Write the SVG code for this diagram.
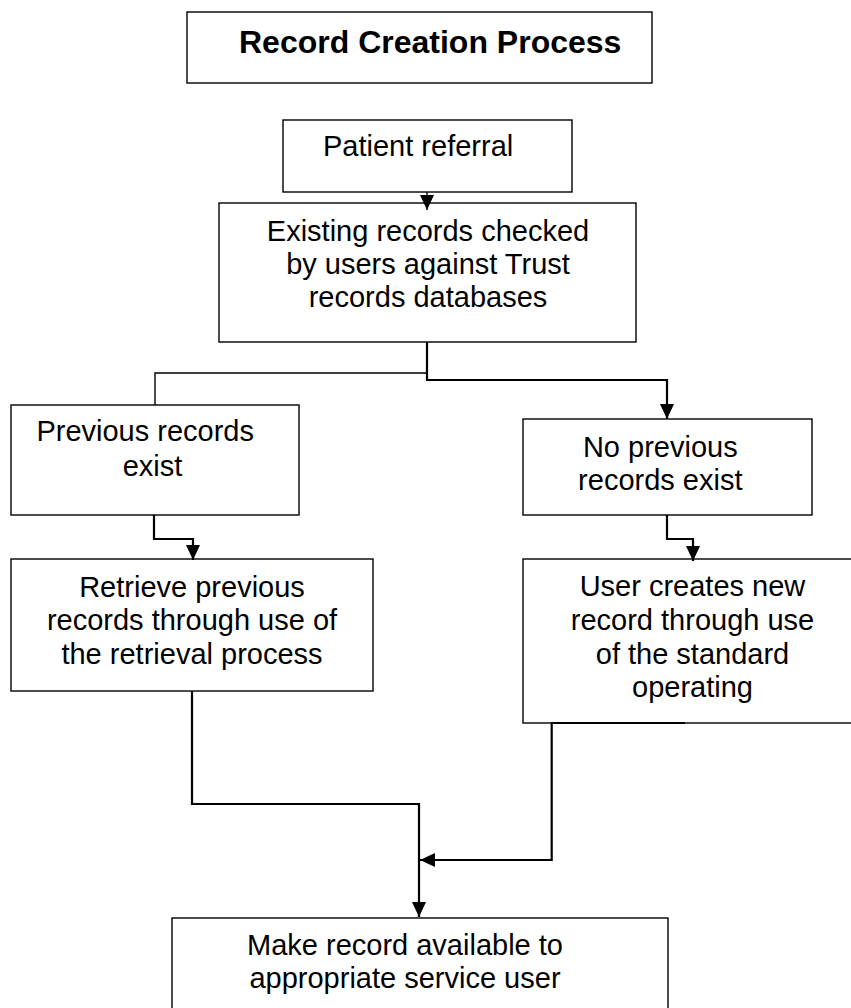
<svg xmlns="http://www.w3.org/2000/svg" width="851" height="1008" viewBox="0 0 851 1008">
<style>
.box{fill:#fff;stroke:#000;stroke-width:1.4}
.t{font-family:"Liberation Sans",Arial,sans-serif;font-size:29px;fill:#000}
.m{text-anchor:middle}
.title{font-family:"Liberation Sans",Arial,sans-serif;font-size:32px;font-weight:bold;fill:#000}
.c{fill:none;stroke:#000;stroke-width:2.2}
.cthin{fill:none;stroke:#000;stroke-width:1.4}
</style>
<defs>
<marker id="ah" markerUnits="userSpaceOnUse" markerWidth="15" markerHeight="14" viewBox="0 0 15 14" refX="15" refY="7" orient="auto">
<path d="M0,0 L15,7 L0,14 z" fill="#000"/>
</marker>
</defs>
<rect width="851" height="1008" fill="#fff"/>
<g id="title">
<rect class="box" x="187" y="12" width="465" height="71"/>
<text class="title" x="239" y="53">Record Creation Process</text>
</g>
<g id="patient-referral">
<rect class="box" x="283" y="120" width="289" height="72"/>
<text class="t" x="323" y="156">Patient referral</text>
</g>
<g id="existing-records">
<rect class="box" x="219" y="203" width="417" height="139"/>
<text class="t m" x="428" y="240.7">Existing records checked</text>
<text class="t m" x="428" y="274">by users against Trust</text>
<text class="t m" x="428" y="307.3">records databases</text>
</g>
<g id="previous-records">
<rect class="box" x="11" y="405" width="288" height="110"/>
<text class="t m" x="145.2" y="441">Previous records</text>
<text class="t m" x="152.5" y="475.7">exist</text>
</g>
<g id="no-previous-records">
<rect class="box" x="523" y="419" width="289" height="96"/>
<text class="t m" x="660.3" y="456.7">No previous</text>
<text class="t m" x="660.3" y="490">records exist</text>
</g>
<g id="retrieve-records">
<rect class="box" x="11" y="559" width="362" height="132"/>
<text class="t m" x="192" y="596.7">Retrieve previous</text>
<text class="t m" x="192" y="630">records through use of</text>
<text class="t m" x="192" y="663.5">the retrieval process</text>
</g>
<g id="create-record">
<rect class="box" x="523" y="559" width="340" height="164"/>
<text class="t m" x="692.5" y="595.5">User creates new</text>
<text class="t m" x="692.5" y="630">record through use</text>
<text class="t m" x="692.5" y="663.5">of the standard</text>
<text class="t m" x="692.5" y="697">operating</text>
</g>
<g id="make-available">
<rect class="box" x="172" y="918" width="496" height="100"/>
<text class="t m" x="405" y="955">Make record available to</text>
<text class="t m" x="405" y="988.3">appropriate service user</text>
</g>
<g id="connectors">
<path class="cthin" d="M427 192 V210" marker-end="url(#ah)"/>
<path class="c" d="M427 342 V380 H667 V419" marker-end="url(#ah)"/>
<path class="cthin" d="M427 373 H155 V405"/>
<path class="c" d="M154 515 V539 H193 V560" marker-end="url(#ah)"/>
<path class="c" d="M667 515 V539 H693 V561" marker-end="url(#ah)"/>
<path class="c" d="M192 691 V804 H419 V917" marker-end="url(#ah)"/>
<path class="c" d="M551.7 723 V860 H420" marker-end="url(#ah)"/>
<path class="c" d="M551 723 H685"/>
</g>
</svg>
